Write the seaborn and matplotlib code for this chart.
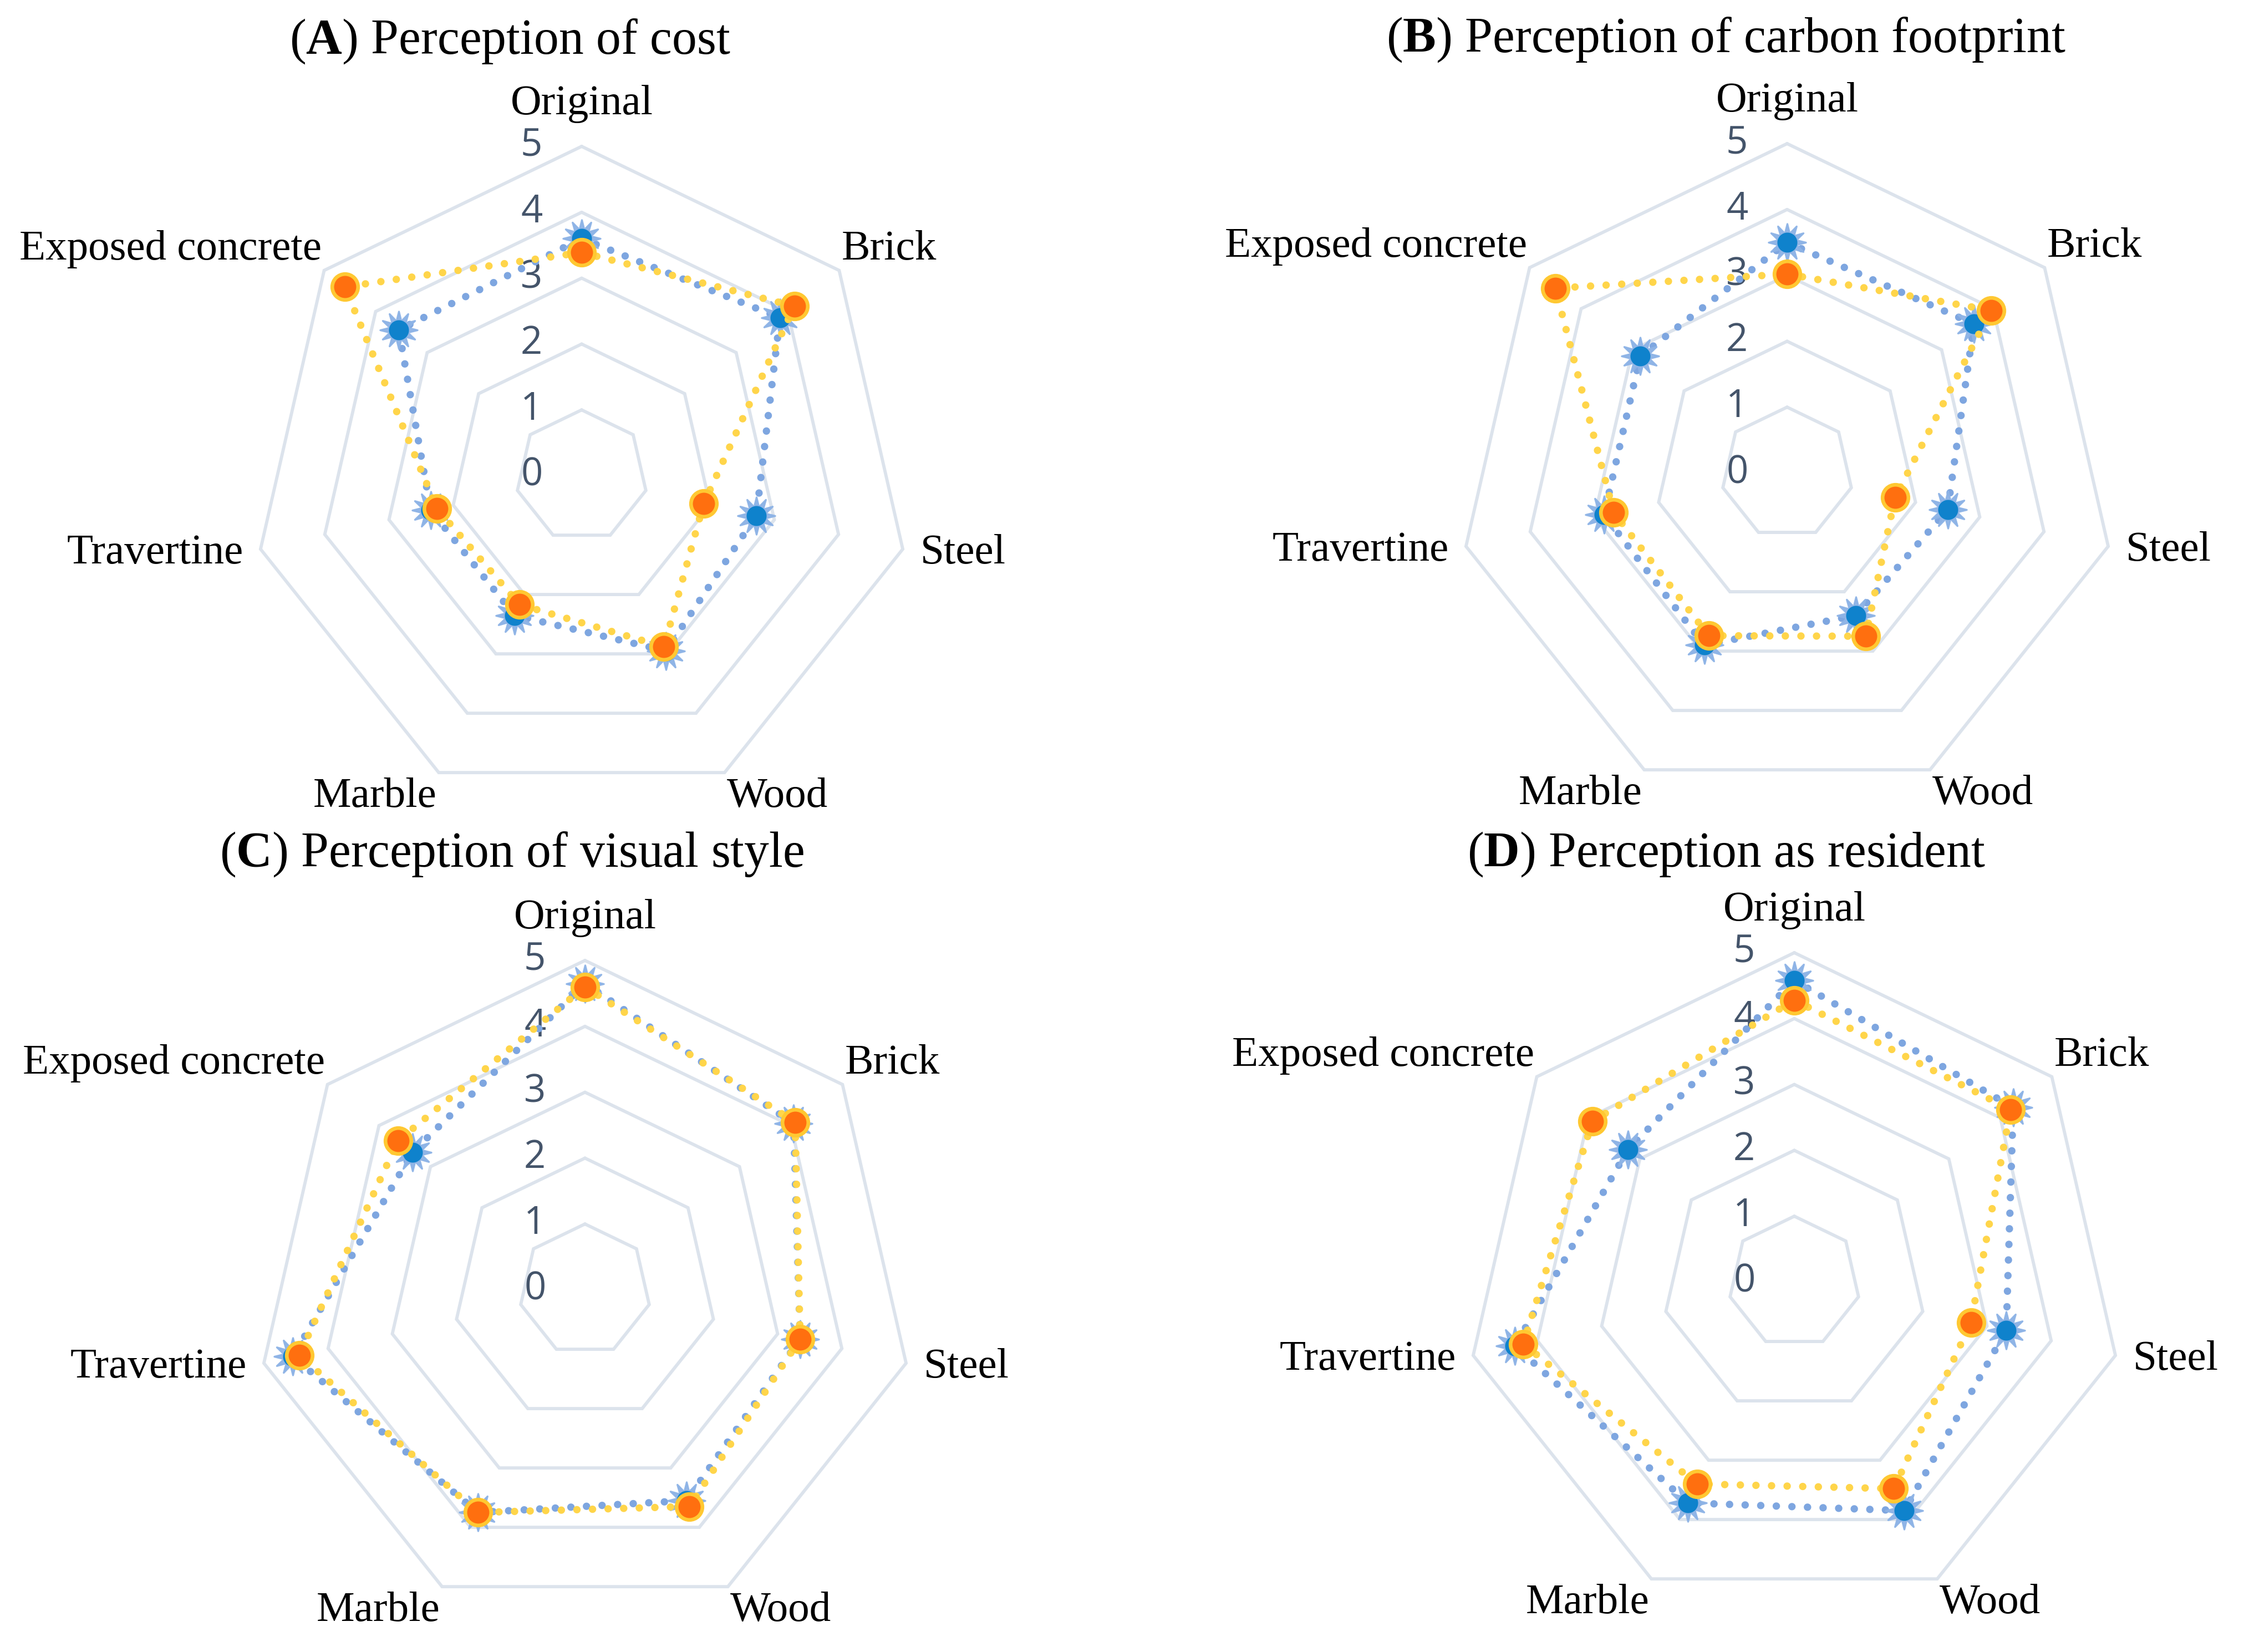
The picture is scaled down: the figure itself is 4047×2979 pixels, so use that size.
import numpy as np
import matplotlib
matplotlib.use("Agg")
import matplotlib.pyplot as plt
import seaborn as sns
import pandas as pd

# ---------------- data ----------------
categories = ["Original", "Brick", "Steel", "Wood", "Marble", "Travertine", "Exposed concrete"]
scale_levels = [0, 1, 2, 3, 4, 5]

cost_blue = [3.60, 3.85, 2.72, 2.95, 2.35, 2.35, 3.55]
cost_orange = [3.39, 4.13, 1.90, 2.88, 2.17, 2.25, 4.60]

carbon_blue = [3.50, 3.63, 2.50, 2.40, 2.90, 2.85, 2.85]
carbon_orange = [3.02, 3.96, 1.68, 2.75, 2.74, 2.70, 4.50]

visual_blue = [4.65, 4.05, 3.35, 3.55, 3.75, 4.55, 3.35]
visual_orange = [4.60, 4.08, 3.35, 3.65, 3.75, 4.45, 3.63]

resident_blue = [4.58, 4.25, 3.30, 3.85, 3.72, 4.35, 3.23]
resident_orange = [4.28, 4.20, 2.75, 3.48, 3.40, 4.22, 3.92]

panel_letters = ["A", "B", "C", "D"]
panel_titles = ["Perception of cost", "Perception of carbon footprint",
                "Perception of visual style", "Perception as resident"]

# ---------------- style ----------------
sns.set_theme(style="white")
plt.rcParams["font.family"] = ["Liberation Serif", "DejaVu Serif"]
plt.rcParams["mathtext.fontset"] = "custom"
plt.rcParams["mathtext.rm"] = "Liberation Serif"
plt.rcParams["mathtext.bf"] = "Liberation Serif:bold"
plt.rcParams["mathtext.it"] = "Liberation Serif:italic"

W, H = 4047, 2979
fig = plt.figure(figsize=(W / 300, H / 300), dpi=300)
fig.patch.set_facecolor("white")

R5 = 594.0  # pixel radius of level 5
# (center x, center y, title x, title y) in pixels
layout = [
    (1049, 858, 920, 75),
    (3223, 853, 3113, 72),
    (1055, 2326, 923, 1541),
    (3236, 2312, 3113, 1541),
]

# label placement: (radius, ha, va)
label_place = [
    (5.35, "center", "bottom"),
    (5.05, "left", "bottom"),
    (5.27, "left", "center"),
    (5.08, "left", "top"),
    (5.08, "right", "top"),
    (5.27, "right", "center"),
    (5.05, "right", "bottom"),
]

grid_color = "#DCE3EC"
tick_color = "#44546A"
blue_line = "#7EA6E0"
blue_star = "#8DB3E6"
blue_core = "#0F82CC"
yellow_line = "#FFD54A"
orange_face = "#FF6F0F"
orange_edge = "#FFC832"

n = len(categories)
theta = np.arange(n) * 2 * np.pi / n
theta_closed = np.append(theta, 2 * np.pi)

series = [(cost_blue, cost_orange), (carbon_blue, carbon_orange),
          (visual_blue, visual_orange), (resident_blue, resident_orange)]

for (blue, orange), (cx, cy, tx, ty), letter, ttl in zip(series, layout, panel_letters, panel_titles):
    ax = fig.add_axes([(cx - R5) / W, 1 - (cy + R5) / H, 2 * R5 / W, 2 * R5 / H])
    ax.set_xlim(-5, 5)
    ax.set_ylim(-5, 5)
    ax.set_axis_off()

    # heptagonal grid
    for lv in scale_levels[1:]:
        gx = lv * np.sin(theta_closed)
        gy = lv * np.cos(theta_closed)
        ax.plot(gx, gy, color=grid_color, lw=1.4, zorder=1, solid_joinstyle="miter")

    # value axis labels
    for lv in scale_levels:
        ax.text(-0.76, lv, str(lv), ha="center", va="center", fontsize=16.5,
                color=tick_color, family=["Open Sans", "DejaVu Sans"], zorder=2)

    # category labels
    for ang, cat, (rr, ha, va) in zip(theta, categories, label_place):
        ax.text(rr * np.sin(ang), rr * np.cos(ang), cat, ha=ha, va=va,
                fontsize=18.5, color="black")

    # data series
    for vals, kind in ((blue, "blue"), (orange, "orange")):
        v = np.append(np.array(vals), vals[0])
        df = pd.DataFrame({"x": v * np.sin(theta_closed), "y": v * np.cos(theta_closed)})
        pts = df.iloc[:-1]
        if kind == "blue":
            sns.lineplot(data=df, x="x", y="y", sort=False, ax=ax, color=blue_line,
                         lw=3.2, linestyle=(0, (0.01, 2.1)), dash_capstyle="round",
                         zorder=3, estimator=None)
            sns.scatterplot(data=pts, x="x", y="y", ax=ax, marker=(12, 1, 0), s=260,
                            color=blue_star, edgecolor=blue_star, linewidth=0.8,
                            zorder=4, alpha=0.95)
            sns.scatterplot(data=pts, x="x", y="y", ax=ax, marker="o", s=75,
                            color=blue_core, edgecolor=blue_core, linewidth=0, zorder=5)
        else:
            sns.lineplot(data=df, x="x", y="y", sort=False, ax=ax, color=yellow_line,
                         lw=3.2, linestyle=(0, (0.01, 2.1)), dash_capstyle="round",
                         zorder=6, estimator=None)
            sns.scatterplot(data=pts, x="x", y="y", ax=ax, marker="o", s=125,
                            color=orange_face, edgecolor=orange_edge, linewidth=1.6,
                            zorder=7)
    ax.set_xlim(-5, 5)
    ax.set_ylim(-5, 5)
    for c in ax.get_children():
        if hasattr(c, "set_clip_on"):
            c.set_clip_on(False)

    fig.text(tx / W, 1 - ty / H, r"($\mathbf{" + letter + r"}$) " + ttl,
             ha="center", va="center", fontsize=21.5, color="black")

fig.savefig("out.png", dpi=300, facecolor="white")
